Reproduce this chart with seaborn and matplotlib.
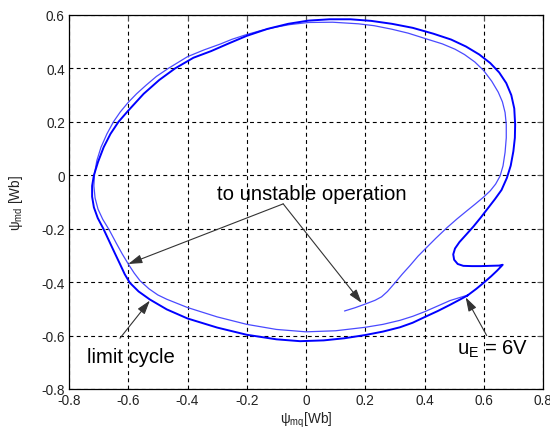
import matplotlib
matplotlib.use("Agg")
import matplotlib.pyplot as plt
import seaborn as sns
import pandas as pd

# Transient trajectory: starts inside the cycle and spirals outward (psi_mq, psi_md) [Wb]
transient_q = [0.130, 0.165, 0.200, 0.233, 0.255, 0.275, 0.300, 0.325, 0.351, 0.378,
               0.402, 0.438, 0.475, 0.510, 0.543, 0.572, 0.599, 0.622, 0.640, 0.655,
               0.665, 0.672, 0.676, 0.676, 0.672, 0.663, 0.649, 0.627, 0.599, 0.570,
               0.535, 0.503, 0.460, 0.402, 0.345, 0.289, 0.230, 0.177, 0.090, 0.008,
               -0.055, -0.105, -0.155, -0.200, -0.250, -0.290, -0.345, -0.400, -0.465, -0.505,
               -0.540, -0.572, -0.600, -0.627, -0.650, -0.672, -0.692, -0.706, -0.714, -0.716,
               -0.712, -0.702, -0.686, -0.664, -0.640, -0.620, -0.600, -0.580, -0.560, -0.530,
               -0.500, -0.470, -0.400, -0.300, -0.200, -0.100, 0.000, 0.100, 0.200, 0.260,
               0.317, 0.360, 0.402, 0.445, 0.486, 0.515, 0.545]
transient_d = [-0.508, -0.496, -0.482, -0.468, -0.455, -0.435, -0.403, -0.370, -0.338, -0.303,
               -0.276, -0.236, -0.197, -0.163, -0.133, -0.107, -0.082, -0.058, -0.033, -0.003,
               0.035, 0.086, 0.140, 0.190, 0.235, 0.275, 0.311, 0.352, 0.393, 0.424,
               0.452, 0.472, 0.492, 0.512, 0.532, 0.547, 0.560, 0.567, 0.573, 0.572,
               0.564, 0.554, 0.541, 0.527, 0.509, 0.491, 0.469, 0.444, 0.400, 0.370,
               0.337, 0.305, 0.273, 0.237, 0.200, 0.155, 0.105, 0.055, 0.005, -0.040,
               -0.085, -0.127, -0.165, -0.205, -0.255, -0.295, -0.332, -0.366, -0.395, -0.425,
               -0.448, -0.464, -0.495, -0.530, -0.558, -0.577, -0.586, -0.582, -0.569, -0.558,
               -0.543, -0.528, -0.510, -0.489, -0.469, -0.459, -0.449]

# Limit cycle reached at u_E = 6 V (with the hook on the right-hand side)
cycle_q = [0.545, 0.575, 0.599, 0.625, 0.645, 0.658, 0.664, 0.652, 0.620, 0.590,
           0.560, 0.531, 0.512, 0.500, 0.497, 0.503, 0.518, 0.540, 0.565, 0.590,
           0.615, 0.638, 0.660, 0.678, 0.691, 0.700, 0.705, 0.706, 0.703, 0.693,
           0.676, 0.652, 0.622, 0.585, 0.540, 0.490, 0.430, 0.360, 0.290, 0.220,
           0.150, 0.080, 0.008, -0.060, -0.130, -0.200, -0.260, -0.320, -0.380, -0.442,
           -0.495, -0.548, -0.600, -0.633, -0.660, -0.683, -0.702, -0.716, -0.722, -0.722,
           -0.716, -0.703, -0.684, -0.665, -0.646, -0.628, -0.612, -0.595, -0.565, -0.527,
           -0.470, -0.400, -0.300, -0.200, -0.100, -0.020, 0.060, 0.130, 0.200, 0.260,
           0.317, 0.360, 0.402, 0.445, 0.486, 0.520, 0.545]
cycle_d = [-0.450, -0.425, -0.403, -0.378, -0.357, -0.342, -0.335, -0.338, -0.339, -0.340,
           -0.340, -0.339, -0.332, -0.316, -0.296, -0.274, -0.250, -0.223, -0.192, -0.158,
           -0.122, -0.089, -0.055, -0.010, 0.036, 0.090, 0.140, 0.190, 0.250, 0.300,
           0.345, 0.385, 0.420, 0.452, 0.482, 0.508, 0.530, 0.552, 0.567, 0.578,
           0.584, 0.584, 0.579, 0.567, 0.548, 0.522, 0.494, 0.465, 0.440, 0.400,
           0.357, 0.305, 0.242, 0.200, 0.155, 0.105, 0.050, 0.000, -0.040, -0.080,
           -0.120, -0.160, -0.200, -0.245, -0.290, -0.332, -0.370, -0.402, -0.435, -0.465,
           -0.502, -0.536, -0.570, -0.597, -0.614, -0.621, -0.618, -0.610, -0.598, -0.585,
           -0.569, -0.552, -0.530, -0.508, -0.485, -0.465, -0.450]

x_ticks = [-0.8, -0.6, -0.4, -0.2, 0, 0.2, 0.4, 0.6, 0.8]
y_ticks = [-0.8, -0.6, -0.4, -0.2, 0, 0.2, 0.4, 0.6]
x_tick_labels = ["-0.8", "-0.6", "-0.4", "-0.2", "0", "0.2", "0.4", "0.6", "0.8"]
y_tick_labels = ["-0.8", "-0.6", "-0.4", "-0.2", "0", "0.2", "0.4", "0.6"]

sns.set_theme(style="white")
plt.rcParams["font.family"] = ["Liberation Sans", "DejaVu Sans"]
plt.rcParams["mathtext.fontset"] = "custom"
plt.rcParams["mathtext.rm"] = "Liberation Sans"
plt.rcParams["mathtext.it"] = "Liberation Sans"

fig = plt.figure(figsize=(5.5, 4.35), dpi=100)
ax = fig.add_axes([69 / 550, 45 / 435, 474 / 550, 374 / 435])

df_t = pd.DataFrame({"q": transient_q, "d": transient_d})
df_c = pd.DataFrame({"q": cycle_q, "d": cycle_d})
sns.lineplot(data=df_t, x="q", y="d", sort=False, estimator=None,
             color="#4a4aff", linewidth=0.9, ax=ax)
sns.lineplot(data=df_c, x="q", y="d", sort=False, estimator=None,
             color="#0000ff", linewidth=1.4, ax=ax)

ax.set_xlim(-0.8, 0.8)
ax.set_ylim(-0.8, 0.6)
ax.set_xticks(x_ticks)
ax.set_yticks(y_ticks)
ax.set_xticklabels(x_tick_labels)
ax.set_yticklabels(y_tick_labels)
ax.tick_params(direction="in", top=True, right=True, length=4, width=0.8,
               color="#555555", labelsize=9.8, labelcolor="#222222", pad=3)
ax.grid(True, color="black", linestyle=(0, (3.5, 3)), linewidth=0.8)
for s in ax.spines.values():
    s.set_color("black")
    s.set_linewidth(0.9)

ax.set_xlabel(r"$\psi_\mathrm{mq}$[Wb]", fontsize=9.8, color="#222222", labelpad=2)
ax.set_ylabel(r"$\psi_\mathrm{md}$ [Wb]", fontsize=9.8, color="#222222", labelpad=12)

arrow = dict(arrowstyle="-|>,head_length=0.7,head_width=0.22", color="#333333",
             lw=0.8, mutation_scale=12, shrinkA=0, shrinkB=0)

ax.text(-0.299, -0.089, "to unstable operation", fontsize=14.6, color="black",
        ha="left", va="baseline")
ax.annotate("", xy=(-0.600, -0.332), xytext=(-0.077, -0.107), arrowprops=arrow)
ax.annotate("", xy=(0.188, -0.478), xytext=(-0.077, -0.107), arrowprops=arrow)

ax.text(-0.739, -0.698, "limit cycle", fontsize=14.6, color="black",
        ha="left", va="baseline")
ax.annotate("", xy=(-0.527, -0.469), xytext=(-0.628, -0.610), arrowprops=arrow)

ax.text(0.510, -0.669, r"u$_\mathrm{E}$ = 6V", fontsize=14.6, color="black",
        ha="left", va="baseline")
ax.annotate("", xy=(0.539, -0.457), xytext=(0.610, -0.600), arrowprops=arrow)

fig.savefig("out.png", dpi=100)
